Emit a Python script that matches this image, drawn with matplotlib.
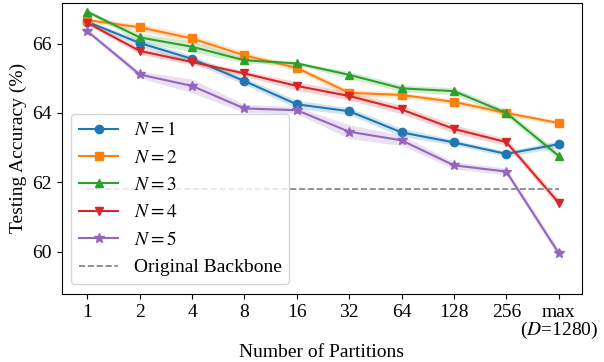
import matplotlib
matplotlib.use("Agg")
import matplotlib.pyplot as plt
import numpy as np

plt.rcParams['font.family'] = ['Liberation Serif', 'DejaVu Serif']
plt.rcParams['mathtext.fontset'] = 'stix'

partitions = ["1", "2", "4", "8", "16", "32", "64", "128", "256", "max\n($D$=1280)"]
labels = ["$N=1$", "$N=2$", "$N=3$", "$N=4$", "$N=5$"]
markers = ["o", "s", "^", "v", "*"]
means = [
    [66.63, 66.02, 65.56, 64.92, 64.25, 64.05, 63.44, 63.15, 62.82, 63.10],
    [66.68, 66.47, 66.15, 65.66, 65.30, 64.58, 64.52, 64.32, 64.00, 63.71],
    [66.92, 66.18, 65.91, 65.52, 65.43, 65.10, 64.71, 64.63, 64.00, 62.76],
    [66.60, 65.79, 65.47, 65.14, 64.78, 64.49, 64.10, 63.54, 63.16, 61.41],
    [66.36, 65.11, 64.78, 64.13, 64.08, 63.46, 63.21, 62.49, 62.31, 59.96],
]
stds = [
    [0.05, 0.10, 0.10, 0.10, 0.12, 0.10, 0.12, 0.08, 0.08, 0.10],
    [0.05, 0.10, 0.12, 0.10, 0.08, 0.10, 0.08, 0.08, 0.08, 0.06],
    [0.05, 0.12, 0.15, 0.08, 0.05, 0.10, 0.10, 0.10, 0.10, 0.12],
    [0.05, 0.10, 0.08, 0.08, 0.12, 0.12, 0.12, 0.12, 0.10, 0.12],
    [0.05, 0.10, 0.20, 0.12, 0.10, 0.20, 0.15, 0.10, 0.10, 0.12],
]
baseline = 61.8

fig = plt.figure(figsize=(6.04, 3.62), dpi=100)
ax = fig.add_axes([0.102, 0.188, 0.862, 0.8045])
x = np.arange(len(partitions))
colors = plt.rcParams['axes.prop_cycle'].by_key()['color']
for i, (m, s) in enumerate(zip(means, stds)):
    m = np.array(m); s = np.array(s)
    ms = 7 if markers[i] == "*" else 6
    ax.plot(x, m, marker=markers[i], color=colors[i], lw=1.5, ms=ms, label=labels[i])
    ax.fill_between(x, m - s, m + s, color=colors[i], alpha=0.2, lw=0)
ax.plot([x[0], x[-1]], [baseline, baseline], '--', color='gray', lw=1.2, label="Original Backbone")

ax.set_xticks(x)
ax.set_xticklabels(partitions, fontsize=14, linespacing=0.95)
ax.set_yticks([60, 62, 64, 66])
ax.tick_params(axis='y', labelsize=14)
ax.set_xlim(-0.49, 9.45)
ax.set_ylim(58.78, 67.18)
ax.set_xlabel("Number of Partitions", fontsize=14, labelpad=2)
ax.set_ylabel("Testing Accuracy (%)", fontsize=14)
ax.legend(loc='lower left', fontsize=14)
fig.savefig("out.png", dpi=100)
